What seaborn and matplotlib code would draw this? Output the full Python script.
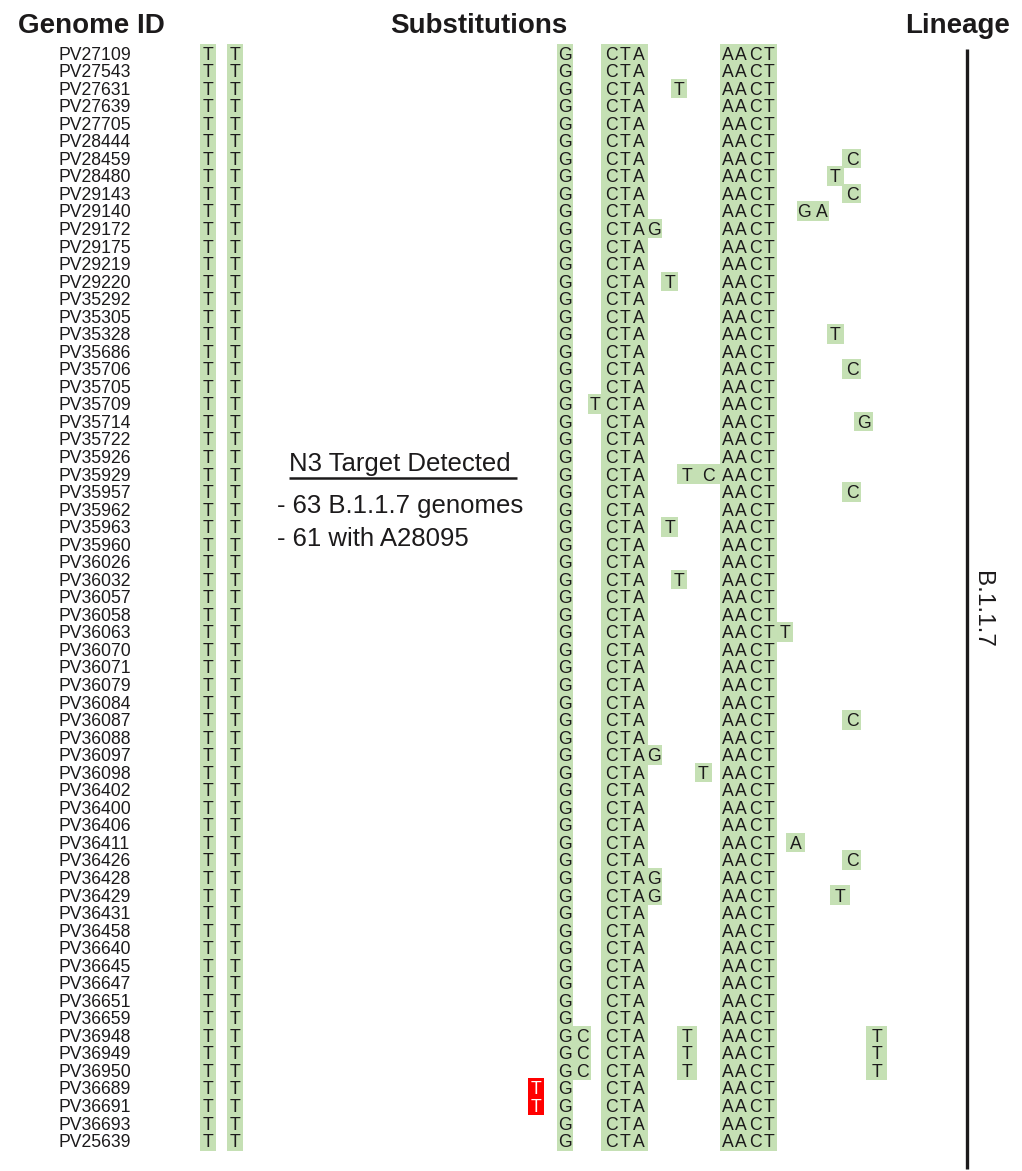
import matplotlib
matplotlib.use("Agg")
import matplotlib.pyplot as plt
import seaborn as sns
import pandas as pd

# ---------------- data ----------------
genome_ids = [
    "PV27109", "PV27543", "PV27631", "PV27639", "PV27705", "PV28444", "PV28459",
    "PV28480", "PV29143", "PV29140", "PV29172", "PV29175", "PV29219", "PV29220",
    "PV35292", "PV35305", "PV35328", "PV35686", "PV35706", "PV35705", "PV35709",
    "PV35714", "PV35722", "PV35926", "PV35929", "PV35957", "PV35962", "PV35963",
    "PV35960", "PV36026", "PV36032", "PV36057", "PV36058", "PV36063", "PV36070",
    "PV36071", "PV36079", "PV36084", "PV36087", "PV36088", "PV36097", "PV36098",
    "PV36402", "PV36400", "PV36406", "PV36411", "PV36426", "PV36428", "PV36429",
    "PV36431", "PV36458", "PV36640", "PV36645", "PV36647", "PV36651", "PV36659",
    "PV36948", "PV36949", "PV36950", "PV36689", "PV36691", "PV36693", "PV25639",
]

# substitutions shared by every genome (B.1.1.7 defining sites)
shared_sites = ["27972", "28048", "28111", "28280", "28281", "28282",
                "28881", "28882", "28883", "28977"]
shared_bases = ["T", "T", "G", "C", "T", "A", "A", "A", "C", "T"]

# additional private substitutions
extra_genomes = ["PV27631", "PV28459", "PV28480", "PV29143", "PV29140", "PV29140",
                 "PV29172", "PV29220", "PV35328", "PV35706", "PV35709", "PV35714",
                 "PV35929", "PV35929", "PV35957", "PV35963", "PV36032", "PV36063",
                 "PV36087", "PV36097", "PV36098", "PV36411", "PV36426", "PV36428",
                 "PV36429", "PV36429",
                 "PV36948", "PV36948", "PV36948",
                 "PV36949", "PV36949", "PV36949",
                 "PV36950", "PV36950", "PV36950"]
extra_sites = ["e5", "e15", "e13", "e15", "e11", "e12",
               "e3", "e4", "e13", "e15", "e2", "e16",
               "e6", "e7", "e15", "e4", "e5", "e9",
               "e15", "e3", "e8", "e10", "e15", "e3",
               "e3", "e14",
               "e1", "e6", "e17",
               "e1", "e6", "e17",
               "e1", "e6", "e17"]
extra_bases = ["T", "C", "T", "C", "G", "A",
               "G", "T", "T", "C", "T", "G",
               "T", "C", "C", "T", "T", "T",
               "C", "G", "T", "A", "C", "G",
               "G", "T",
               "C", "T", "T",
               "C", "T", "T",
               "C", "T", "T"]

# N3 target site mutation (A28095T)
n3_genomes = ["PV36689", "PV36691"]
n3_site = "28095"
n3_base = "T"

lineage_label = "B.1.1.7"
note_title = "N3 Target Detected"
note_lines = ["- 63 B.1.1.7 genomes", "- 61 with A28095"]

# ---------------- layout (pixel positions of each site column) ----------------
# site: (letter x, box left, box right)
SITE_X = {
    "27972": (208, 200, 216), "28048": (235, 227, 243), "28095": (536, 528, 544),
    "28111": (565, 557, 573), "e1": (582, 573, 591), "e2": (594.5, 588, 601),
    "28280": (611.5, 601, 617), "28281": (624.5, 617, 632), "28282": (638.5, 632, 648),
    "e3": (653.5, 648, 662), "e4": (670, 661, 678), "e5": (679.5, 671, 687),
    "e6": (686.5, 677, 697), "e7": (708, 697, 720), "e8": (703.5, 695, 712),
    "28881": (727.7, 720, 734), "28882": (740.5, 734, 748), "28883": (755, 748, 763),
    "28977": (769.5, 763, 777), "e9": (785.3, 777, 793), "e10": (795.5, 786, 805),
    "e11": (804, 797, 813), "e12": (821.5, 813, 829), "e13": (835.5, 827, 844),
    "e14": (840, 830, 850), "e15": (852, 842, 861), "e16": (863.5, 854, 873),
    "e17": (876.5, 866, 887),
}

Y0, PITCH = 53.3, 17.54
W, H = 1022, 1171


def py2r(py):
    return (py - Y0) / PITCH


GREEN = "#C5E0B4"
RED = "#FF0000"
INK = "#1c1a1b"

sns.set_theme(style="white")
plt.rcParams["font.family"] = ["Liberation Sans", "DejaVu Sans"]

# build cell table
rows = []
for g in genome_ids:
    for s, b in zip(shared_sites, shared_bases):
        rows.append((g, s, b, "ok"))
for g, s, b in zip(extra_genomes, extra_sites, extra_bases):
    rows.append((g, s, b, "ok"))
for g in n3_genomes:
    rows.append((g, n3_site, n3_base, "n3"))
cells = pd.DataFrame(rows, columns=["genome", "site", "base", "kind"])
cells["row"] = cells["genome"].map({g: i for i, g in enumerate(genome_ids)})

fig = plt.figure(figsize=(W / 100, H / 100), dpi=100)
ax = fig.add_axes([0, 0, 1, 1])
ax.set_xlim(0, W)
ax.set_ylim(py2r(H), py2r(0))
ax.axis("off")

hh = 9.8 / PITCH
fs = 12.7
base_off = 6.3 / PITCH

for _, c in cells.iterrows():
    lx, left, right = SITE_X[c["site"]]
    col = RED if c["kind"] == "n3" else GREEN
    ax.bar(left, 2 * hh, width=right - left, bottom=c["row"] - hh, align="edge",
           color=col, linewidth=0, zorder=1)
for _, c in cells.iterrows():
    lx, left, right = SITE_X[c["site"]]
    tc = "white" if c["kind"] == "n3" else INK
    ax.text(lx, c["row"] + base_off, c["base"], ha="center", va="baseline",
            fontsize=fs, color=tc, zorder=3)

for i, g in enumerate(genome_ids):
    ax.text(58.3, i + base_off, g, ha="left", va="baseline", fontsize=fs,
            color=INK, zorder=3)

# headers
for x, t in [(91.5, "Genome ID"), (478.8, "Substitutions"), (958, "Lineage")]:
    ax.text(x, py2r(32.8), t, ha="center", va="baseline", fontsize=20,
            fontweight="bold", color=INK)

# lineage bar
ax.plot([966.7, 966.7], [py2r(49), py2r(1169)], color=INK, lw=2.4,
        solid_capstyle="butt")
ax.text(982, py2r(609), lineage_label, rotation=-90, ha="center", va="center",
        fontsize=17.5, color=INK)

# annotation
ax.text(289, py2r(471.5), note_title, ha="left", va="baseline", fontsize=18.5,
        color=INK)
ax.plot([289, 517], [py2r(478.3)] * 2, color=INK, lw=1.8, solid_capstyle="butt")
for t, yb in zip(note_lines, [512.5, 545.5]):
    ax.text(276.7, py2r(yb), t, ha="left", va="baseline", fontsize=18.5, color=INK)

fig.savefig("out.png", dpi=100)
